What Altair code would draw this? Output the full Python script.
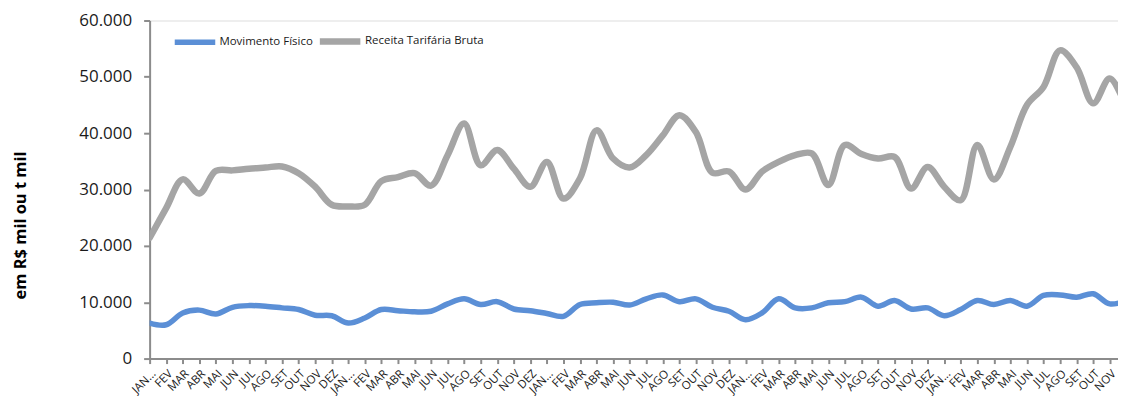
import altair as alt
import pandas as pd

month_labels = ["JAN...", "FEV", "MAR", "ABR", "MAI", "JUN", "JUL", "AGO", "SET", "OUT", "NOV", "DEZ"]

series_names = ["Movimento Físico", "Receita Tarifária Bruta"]

movimento = [6.3, 6.0, 8.1, 8.6, 7.9, 9.1, 9.4, 9.3, 9.0, 8.7, 7.7, 7.6,
             6.3, 7.2, 8.7, 8.5, 8.3, 8.4, 9.7, 10.6, 9.6, 10.1, 8.8, 8.5,
             8.0, 7.5, 9.6, 9.9, 10.0, 9.5, 10.6, 11.3, 10.1, 10.6, 9.1, 8.4,
             6.9, 8.1, 10.6, 9.0, 9.0, 9.9, 10.1, 10.9, 9.3, 10.3, 8.8, 9.0,
             7.6, 8.7, 10.3, 9.6, 10.3, 9.3, 11.2, 11.3, 10.9, 11.5, 9.7, 10.3]

receita = [21.4, 26.7, 31.8, 29.3, 33.3, 33.4, 33.7, 33.9, 34.1, 32.9, 30.5, 27.3,
           27.0, 27.3, 31.5, 32.2, 32.9, 30.7, 36.1, 41.7, 34.3, 37.0, 33.7, 30.5,
           34.9, 28.4, 32.0, 40.5, 35.5, 33.9, 36.1, 39.6, 43.2, 40.2, 33.0, 33.2,
           30.0, 33.2, 34.9, 36.1, 36.4, 30.8, 37.9, 36.3, 35.5, 35.8, 30.2, 34.0,
           30.5, 28.1, 37.9, 31.8, 37.6, 45.0, 48.2, 54.7, 51.7, 45.3, 49.7, 44.5]

rows = []
for i, v in enumerate(movimento):
    rows.append({"idx": i, "valor": v * 1000, "serie": series_names[0]})
for i, v in enumerate(receita):
    rows.append({"idx": i, "valor": v * 1000, "serie": series_names[1]})
df = pd.DataFrame(rows)

label_array = "[" + ",".join("'" + m + "'" for m in month_labels) + "]"
n_months = len(receita)

FONT = "Open Sans"

chart = alt.Chart(df).mark_line(interpolate="catmull-rom", clip=True, strokeCap="round").encode(
    x=alt.X("idx:Q",
            scale=alt.Scale(domain=[0, 58.5], nice=False, zero=False),
            axis=alt.Axis(title=None, values=list(range(n_months - 1)), labelAngle=-45,
                          labelExpr=label_array + "[datum.value % 12]",
                          labelOverlap=False, labelFlush=False, labelFontSize=11.5,
                          labelFont=FONT, labelColor="#1a1a1a", labelPadding=4,
                          domainColor="#8c8c8c", domainWidth=2, tickColor="#8c8c8c",
                          tickWidth=2, tickSize=5, grid=False)),
    y=alt.Y("valor:Q",
            scale=alt.Scale(domain=[0, 60000], nice=False),
            axis=alt.Axis(title="em R$ mil ou t mil", values=list(range(0, 60001, 10000)),
                          labelExpr="replace(format(datum.value, ',d'), ',', '.')",
                          labelFont=FONT, labelFontSize=17, labelColor="#1a1a1a",
                          labelPadding=12, tickSize=6, tickWidth=2, tickColor="#8c8c8c",
                          domainColor="#8c8c8c", domainWidth=2, grid=False,
                          titleFont=FONT, titleFontSize=16.5, titleFontWeight="bold",
                          titleColor="#000000", titlePadding=50, titleY=205)),
    color=alt.Color("serie:N",
                    scale=alt.Scale(domain=series_names, range=["#5B8FD6", "#A5A5A5"]),
                    legend=alt.Legend(title=None, orient="none", legendX=22, legendY=-3,
                                      direction="horizontal", symbolType="stroke",
                                      symbolSize=1650, symbolStrokeWidth=3,
                                      labelFont=FONT, labelFontSize=11.5, labelColor="#1a1a1a",
                                      labelOffset=1, columnPadding=-7)),
    strokeWidth=alt.StrokeWidth("serie:N",
                                scale=alt.Scale(domain=series_names, range=[5.5, 6.5]),
                                legend=None),
).properties(
    width=971,
    height=339,
    padding={"left": 4, "top": 3, "right": 0, "bottom": 0},
).configure_view(stroke=None).configure(background="white")

chart.save("out.html", embed_options={"renderer": "svg", "actions": False})
